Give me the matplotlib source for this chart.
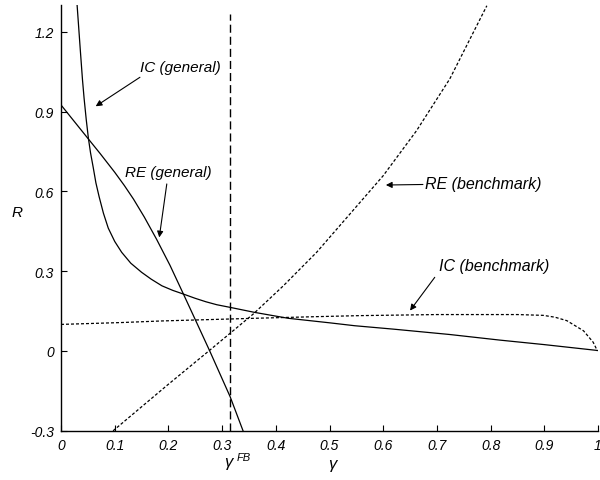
import matplotlib
matplotlib.use("Agg")
import matplotlib.pyplot as plt

plt.rcParams['font.family'] = ['Liberation Sans', 'DejaVu Sans']
plt.rcParams['font.style'] = 'italic'
plt.rcParams['axes.unicode_minus'] = False

# ---- data ----
ic_gen_x = [0.030, 0.033, 0.036, 0.040, 0.043, 0.047, 0.051, 0.055, 0.060, 0.065,
            0.071, 0.079, 0.088, 0.100, 0.113, 0.130, 0.150, 0.168, 0.188, 0.208,
            0.228, 0.250, 0.270, 0.290, 0.315, 0.361, 0.423, 0.500, 0.547, 0.620,
            0.724, 0.817, 0.900, 0.999]
ic_gen_y = [1.300, 1.215, 1.130, 1.020, 0.950, 0.870, 0.800, 0.745, 0.690, 0.632,
            0.580, 0.518, 0.462, 0.412, 0.371, 0.330, 0.296, 0.270, 0.245, 0.228,
            0.214, 0.198, 0.185, 0.174, 0.164, 0.145, 0.123, 0.106, 0.095, 0.082,
            0.062, 0.041, 0.024, 0.002]

re_gen_x = [0.000, 0.051, 0.073, 0.100, 0.118, 0.135, 0.155, 0.178, 0.203, 0.228,
            0.253, 0.277, 0.315, 0.339]
re_gen_y = [0.925, 0.797, 0.742, 0.672, 0.622, 0.571, 0.504, 0.420, 0.322, 0.214,
            0.105, 0.000, -0.172, -0.300]

re_bm_x = [0.097, 0.197, 0.277, 0.358, 0.414, 0.476, 0.538, 0.600, 0.662, 0.724, 0.793]
re_bm_y = [-0.300, -0.130, 0.003, 0.139, 0.245, 0.371, 0.515, 0.659, 0.828, 1.023, 1.298]

ic_bm_x = [0.000, 0.113, 0.188, 0.361, 0.473, 0.557, 0.700, 0.850, 0.898, 0.920,
           0.942, 0.973, 0.991, 0.999]
ic_bm_y = [0.100, 0.107, 0.113, 0.123, 0.129, 0.133, 0.137, 0.137, 0.134, 0.127,
           0.114, 0.076, 0.033, 0.000]

gamma_fb = 0.315

x_ticks = [0, 0.1, 0.2, 0.3, 0.4, 0.5, 0.6, 0.7, 0.8, 0.9, 1.0]
x_tick_labels = ['0', '0.1', '0.2', '0.3', '0.4', '0.5', '0.6', '0.7', '0.8', '0.9', '1']
y_ticks = [-0.3, 0, 0.3, 0.6, 0.9, 1.2]
y_tick_labels = ['-0.3', '0', '0.3', '0.6', '0.9', '1.2']

# ---- figure ----
fig = plt.figure(figsize=(6.0, 4.81), dpi=100)
ax = fig.add_axes([61 / 600, 49.2 / 481, 537 / 600, 425.6 / 481])

ax.plot(ic_gen_x, ic_gen_y, color='black', lw=0.9)
ax.plot(re_gen_x, re_gen_y, color='black', lw=0.9)
ax.plot(re_bm_x, re_bm_y, color='black', lw=0.9, linestyle=(0, (2.4, 1.6)))
ax.plot(ic_bm_x, ic_bm_y, color='black', lw=0.9, linestyle=(0, (2.4, 1.6)))
ax.axvline(gamma_fb, ymin=0, ymax=0.98, color='black', lw=1.0, linestyle=(0, (5.8, 2.9)))

ax.set_xlim(0, 1)
ax.set_ylim(-0.3, 1.3)
ax.set_xticks(x_ticks)
ax.set_xticklabels(x_tick_labels)
ax.set_yticks(y_ticks)
ax.set_yticklabels(y_tick_labels)
ax.tick_params(direction='in', length=4, width=0.8, labelsize=10, pad=5)
for s in ['top', 'right']:
    ax.spines[s].set_visible(False)
for s in ['left', 'bottom']:
    ax.spines[s].set_linewidth(1.0)

arrow_kw = dict(arrowstyle='-|>', color='black', lw=0.8, mutation_scale=9,
                shrinkA=0, shrinkB=0)
fs = 11

# IC (general)
ax.text(0.147, 1.068, 'IC (general)', fontsize=fs, ha='left', va='center')
ax.annotate('', xy=(0.0646, 0.92), xytext=(0.147, 1.029), arrowprops=arrow_kw)
# RE (general)
ax.text(0.119, 0.673, 'RE (general)', fontsize=fs, ha='left', va='center')
ax.annotate('', xy=(0.183, 0.427), xytext=(0.197, 0.628), arrowprops=arrow_kw)
# RE (benchmark)
ax.text(0.678, 0.628, 'RE (benchmark)', fontsize=11.5, ha='left', va='center')
ax.annotate('', xy=(0.605, 0.624), xytext=(0.674, 0.626), arrowprops=arrow_kw)
# IC (benchmark)
ax.text(0.703, 0.321, 'IC (benchmark)', fontsize=11.5, ha='left', va='center')
ax.annotate('', xy=(0.650, 0.152), xytext=(0.696, 0.277), arrowprops=arrow_kw)

# axis labels
fig.text(17 / 600, 1 - 213 / 481, 'R', fontsize=11, ha='center', va='center')
fig.text(332 / 600, 1 - 465 / 481, 'γ', fontsize=12, ha='center', va='center')
fig.text(228 / 600, 1 - 462 / 481, 'γ', fontsize=12, ha='center', va='center')
fig.text(237 / 600, 1 - 458 / 481, 'FB', fontsize=8, ha='left', va='center')

fig.savefig('out.png', dpi=100)
